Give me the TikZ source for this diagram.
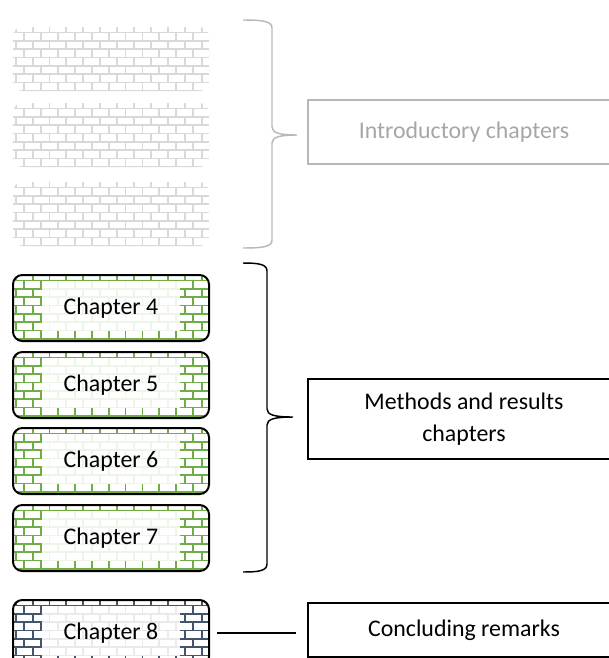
\documentclass[tikz,border=0pt]{standalone}
\usepackage{fontspec}
\setmainfont{Carlito}
\definecolor{brgray}{HTML}{D9D9D9}
\definecolor{brgreen}{HTML}{70AD47}
\definecolor{brblue}{HTML}{44546A}
\definecolor{introgray}{HTML}{A6A6A6}
\definecolor{introline}{HTML}{B8B8B8}
\newcommand\brickwall[5]{%
  \begin{scope}
    \clip[rounded corners=7pt] (#2,#3) rectangle (#4,#5);
    \fill[white] (#2,#3) rectangle (#4,#5);
    \foreach \k in {0,...,9}{
      \pgfmathsetmacro\yy{#3+5.5+\k*8.33}
      \pgfmathsetmacro\ya{\yy-8.33}
      \pgfmathsetmacro\off{mod(\k,2)*8.45}
      \draw[#1,brickline] (#2,\yy) -- (#4,\yy);
      \foreach \j in {0,...,12}{
        \pgfmathsetmacro\xx{#2+2.7+\off+\j*16.9}
        \draw[#1,brickline] (\xx,\ya) -- (\xx,\yy);
      }
    }
  \end{scope}}
\newcommand\veil[2]{\fill[white,opacity=0.88] (42,#1) rectangle (180,#2);}
\begin{document}
\begin{tikzpicture}[x=0.75pt,y=-0.75pt,
  brickline/.style={line width=1.4pt},
  chbox/.style={draw=black,line width=1.5pt,rounded corners=7pt,
    minimum width=147pt,minimum height=49.5pt,inner sep=0pt,
    font=\fontsize{17.9}{21.5}\selectfont},
  ghostbox/.style={minimum width=147pt,minimum height=48pt,inner sep=0pt},
  labelbox/.style={draw=black,line width=1.3pt,minimum width=234pt,inner sep=0pt,
    align=center,font=\fontsize{17.9}{24}\selectfont},
  brace/.style={line width=1.1pt},
  link/.style={line width=1.1pt}]
\useasboundingbox (0,0) rectangle (609,658);
\clip (0,0) rectangle (609,658);

% introductory (grey) walls
\brickwall{brgray}{13}{27}{209}{91}
\brickwall{brgray}{13}{103}{209}{167}
\brickwall{brgray}{13}{182}{209}{246}
\node[ghostbox] (i1) at (111,59) {};
\node[ghostbox] (i2) at (111,135) {};
\node[ghostbox] (i3) at (111,214) {};

% chapters 4-7 (green)
\brickwall{brgreen}{13}{275}{209}{341}\veil{281}{331}
\brickwall{brgreen}{13}{352}{209}{418}\veil{358}{408}
\brickwall{brgreen}{13}{428}{209}{494}\veil{434}{484}
\brickwall{brgreen}{13}{505}{209}{571}\veil{511}{561}
\node[chbox] (ch4) at (111,308) {Chapter 4};
\node[chbox] (ch5) at (111,385) {Chapter 5};
\node[chbox] (ch6) at (111,461) {Chapter 6};
\node[chbox] (ch7) at (111,538) {Chapter 7};

% chapter 8 (blue-grey)
\brickwall{brblue}{13}{600}{209}{666}\veil{606}{656}
\node[chbox] (ch8) at (111,633) {Chapter 8};

% right-hand label boxes
\node[labelbox,draw=introline,text=introgray,minimum height=48pt] (intro) at (464,132) {Introductory chapters};
\node[labelbox,minimum height=60pt] (methods) at (464,419) {Methods and results\\chapters};
\node[labelbox,minimum height=40.5pt] (concl) at (464,630) {Concluding remarks};

% braces
\coordinate (b1top) at (243,20);
\coordinate (b1tip) at (297,135);
\coordinate (b1bot) at (243,248);
\draw[brace,introline] (b1top) .. controls (262,20) and (272,21) .. (272,28)
  -- (272,127) .. controls (272,133) and (280,135) .. (b1tip)
  .. controls (280,135) and (272,137) .. (272,143)
  -- (272,240) .. controls (272,247) and (262,248) .. (b1bot);
\coordinate (b2top) at (243,263);
\coordinate (b2tip) at (293,417);
\coordinate (b2bot) at (243,572);
\draw[brace,black] (b2top) .. controls (258,263) and (267,264) .. (267,271)
  -- (267,409) .. controls (267,415) and (275,417) .. (b2tip)
  .. controls (275,417) and (267,419) .. (267,425)
  -- (267,564) .. controls (267,571) and (258,572) .. (b2bot);

% connector
\draw[link,shorten <=5.25pt,shorten >=8.25pt] (ch8.east) -- (ch8.east -| concl.west);
\end{tikzpicture}
\end{document}
